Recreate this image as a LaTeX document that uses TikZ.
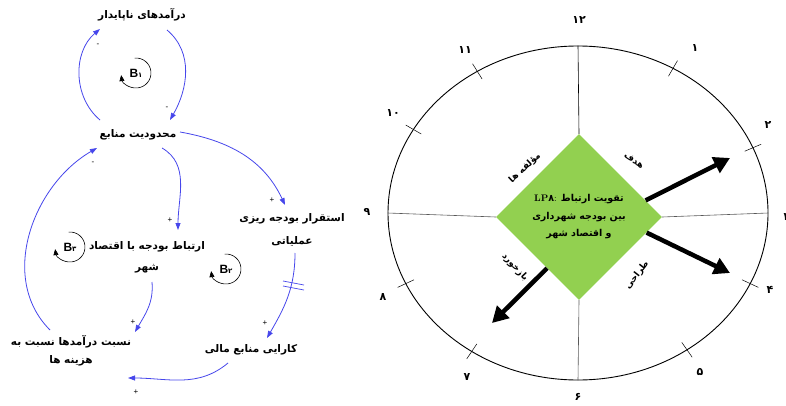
\documentclass[tikz,border=0pt]{standalone}
\usepackage{fontspec}
\setsansfont{Liberation Sans}
\newfontfamily\persianfont[Script=Arabic]{DejaVu Sans}
\TeXXeTstate=1
\usetikzlibrary{arrows.meta,shapes.geometric}
\definecolor{loopblue}{RGB}{70,70,235}
\definecolor{leafgreen}{RGB}{146,208,80}
\newcommand{\fa}[1]{{\persianfont\bfseries\beginR #1\endR}}
\tikzset{
  var/.style={font=\persianfont\bfseries\fontsize{10.5}{23}\selectfont, align=center, inner sep=1pt},
  link/.style={loopblue, line width=0.8pt, -{Triangle[length=7pt,width=5pt]}},
  sign/.style={font=\sffamily\fontsize{8}{8}\selectfont, inner sep=0pt},
  loopname/.style={font=\sffamily\bfseries\fontsize{12}{12}\selectfont, inner sep=0pt},
  looparc/.style={black, line width=0.6pt, -{Triangle[length=6pt,width=5pt]}},
  hub/.style={diamond, fill=leafgreen, minimum width=166pt, minimum height=166pt, inner sep=0pt, align=center, font=\fontsize{9.5}{17.5}\selectfont},
  hour/.style={font=\persianfont\bfseries\fontsize{11}{11}\selectfont, inner sep=0pt},
  armlabel/.style={font=\fontsize{9}{10}\selectfont, inner sep=0pt},
  arm/.style={line width=4.5pt, -{Triangle[length=16pt,width=17pt]}},
  axis/.style={gray!70!black, line width=0.6pt}
}
\begin{document}
\begin{tikzpicture}[x=1pt, y=1pt]
  \useasboundingbox (0,0) rectangle (786,405);
  % 1. Variables of the causal loop diagram
  \node[var] (nInc) at (142,390) {\fa{درآمدهای ناپایدار}};
  \node[var] (nLim) at (138,270) {\fa{محدودیت منابع}};
  \node[var] (nOp) at (292,175) {\fa{استقرار بودجه ریزی}\\\fa{عملیاتی}};
  \node[var] (nLink) at (147,148) {\fa{ارتباط بودجه با اقتصاد}\\[-2pt]\fa{شهر}};
  \node[var] (nRatio) at (71,54) {\fa{نسبت درآمدها نسبت به}\\[-5pt]\fa{هزینه ها}};
  \node[var] (nEff) at (251,55) {\fa{کارایی منابع مالی}};

  % 2. Causal links
  \draw[link] ([shift={(25,-15)}]nInc.center) to[out=-40,in=60] ([shift={(32,15)}]nLim.center);
  \draw[link] ([shift={(-38,15)}]nLim.center) to[out=140,in=-140] ([shift={(-42,-14)}]nInc.center);
  \draw[link] ([shift={(42,3)}]nLim.center) to[out=-10,in=115] ([shift={(-7,25)}]nOp.center);
  \draw[link] ([shift={(24,-13)}]nLim.center) to[out=-30,in=90] ([shift={(31,27)}]nLink.center);
  \draw[link] ([shift={(3,-23)}]nOp.center) to[out=-90,in=60] ([shift={(16,12)}]nEff.center);
  \draw[link] ([shift={(5,-25)}]nLink.center) to[out=-85,in=60] ([shift={(64,19)}]nRatio.center);
  \draw[link] ([shift={(-23,-13)}]nEff.center) to[out=-140,in=0] ([shift={(57,-27)}]nRatio.center);
  \draw[link] ([shift={(-21,21)}]nRatio.center) to[out=135,in=-150] ([shift={(-41,-13)}]nLim.center);
  % delay mark
  \draw[loopblue, line width=0.7pt] (283,124) -- (304,120);
  \draw[loopblue, line width=0.7pt] (283,119) -- (304,115);

  % 3. Polarity signs
  \node[sign] (s1) at (167,297) {-};
  \node[sign] (s2) at (98,360) {-};
  \node[sign] (s3) at (272,205) {+};
  \node[sign] (s4) at (170,185) {+};
  \node[sign] (s5) at (265,82) {+};
  \node[sign] (s6) at (133,83) {+};
  \node[sign] (s7) at (136,13) {+};
  \node[sign] (s8) at (93,242) {-};

  % 4. Loop markers
  \node[loopname] (b1) at (136,332) {B{\persianfont\fontsize{7}{7}\selectfont ۱}};
  \draw[looparc] (b1.center) ++(95:15) arc[start angle=95, end angle=-172, radius=15];
  \node[loopname] (b2) at (226,136) {B{\persianfont\fontsize{7}{7}\selectfont ۲}};
  \draw[looparc] (b2.center) ++(95:15) arc[start angle=95, end angle=-172, radius=15];
  \node[loopname] (b3) at (70,158) {B{\persianfont\fontsize{7}{7}\selectfont ۳}};
  \draw[looparc] (b3.center) ++(95:15) arc[start angle=95, end angle=-172, radius=15];

  % 5. Clock face
  \node[ellipse, draw, line width=0.9pt, minimum width=380pt, minimum height=334pt, inner sep=0pt] (clock) at (578,192) {};
  \foreach \t in {60,23,-25,-55,-124,-155,150,122} {
    \draw[line width=0.5pt] ([shift={({181*cos(\t)},{158*sin(\t)})}]clock.center) -- ([shift={({199*cos(\t)},{176*sin(\t)})}]clock.center);
  }
  \foreach \lab/\x/\y [count=\i] in {۱۲/579/385, ۱/695/357, ۲/768/280, ۳/787/188, ۴/770/115, ۵/700/33,
      ۶/578/8, ۷/467/28, ۸/383/108, ۹/367/193, ۱۰/393/292, ۱۱/465/355} {
    \node[hour] (h\i) at (\x,\y) {\lab};
  }

  % 6. Leverage point
  \node[hub] (lp) at (579,188) {\beginL{\rmfamily\bfseries LP}{\persianfont\bfseries ۸}: \fa{تقویت ارتباط}\endL\\\fa{بین بودجه شهرداری}\\\fa{و اقتصاد شهر}};
  \draw[black, line width=0.6pt] (clock.north) -- (lp.north);
  \draw[axis] (lp.south) -- (clock.south);
  \draw[axis] (clock.west) -- (lp.west);
  \draw[axis] (lp.east) -- (clock.east);

  % 7. Arms
  \coordinate (goalTip) at (730,247);
  \coordinate (designTip) at (730,132);
  \coordinate (feedTip) at (492,82);
  \draw[arm] (lp.14) -- (goalTip);
  \draw[arm] (lp.-13) -- (designTip);
  \draw[arm] (lp.-122) -- (feedTip);
  \node[armlabel, rotate=-35] (lgoal) at (634,244) {\fa{هدف}};
  \node[armlabel, rotate=43] (lcomp) at (525,237) {\fa{مؤلفه ها}};
  \node[armlabel, rotate=52] (ldesign) at (637,130) {\fa{طراحی}};
  \node[armlabel, rotate=-47] (lfeed) at (515,138) {\fa{بازخورد}};
\end{tikzpicture}
\end{document}
